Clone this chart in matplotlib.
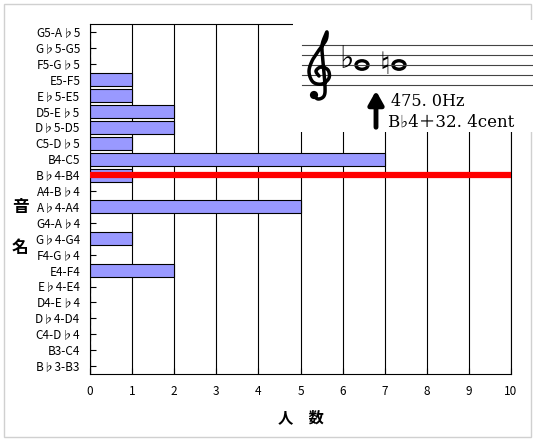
import matplotlib
matplotlib.use('Agg')
import numpy as np
import matplotlib.pyplot as plt
from matplotlib.patches import Ellipse, Rectangle, Circle

plt.rcParams['font.family'] = ['Noto Sans CJK JP', 'DejaVu Sans']

# interval names, top to bottom
names = ['G5-A♭5', 'G♭5-G5', 'F5-G♭5', 'E5-F5', 'E♭5-E5', 'D5-E♭5',
         'D♭5-D5', 'C5-D♭5', 'B4-C5', 'B♭4-B4', 'A4-B♭4', 'A♭4-A4',
         'G4-A♭4', 'G♭4-G4', 'F4-G♭4', 'E4-F4', 'E♭4-E4', 'D4-E♭4',
         'D♭4-D4', 'C4-D♭4', 'B3-C4', 'B♭3-B3']
counts = [0, 0, 0, 1, 1, 2, 2, 1, 7, 1, 0, 5, 0, 1, 0, 2, 0, 0, 0, 0, 0, 0]
marked = 'B♭4-B4'
freq_text = '475. 0Hz'
cent_text = 'B♭4＋32. 4cent'


def catmull(pts, n=12):
    # smooth curve through the given points
    pts = np.asarray(pts, float)
    p = np.vstack([pts[0], pts, pts[-1]])
    out = []
    for i in range(1, len(p) - 2):
        t = np.linspace(0, 1, n)[:, None]
        p0, p1, p2, p3 = p[i - 1], p[i], p[i + 1], p[i + 2]
        out.append(0.5 * ((2 * p1) + (-p0 + p2) * t + (2 * p0 - 5 * p1 + 4 * p2 - p3) * t ** 2
                          + (-p0 + 3 * p1 - 3 * p2 + p3) * t ** 3))
    return np.vstack(out)


W, H = 533, 441
fig = plt.figure(figsize=(W / 100, H / 100), dpi=100)
fig.patches.append(Rectangle((4 / W, 4 / H), 527 / W, 433 / H, transform=fig.transFigure,
                             fill=False, edgecolor='#d0d0d0', lw=1))

ax = fig.add_axes([90 / W, 1 - 374 / H, 421 / W, 350 / H])
ypos = list(range(len(names)))[::-1]
ax.barh(ypos, counts, height=0.82, color='#9999ff', edgecolor='black', lw=0.8, zorder=2)
ax.axhline(ypos[names.index(marked)], color='#ff0000', lw=4.5, zorder=3)
ax.set_xlim(0, 10)
ax.set_ylim(-0.5, len(names) - 0.5)
ax.set_xticks(range(11))
ax.set_yticks(ypos)
ax.set_yticklabels(names, fontsize=8.5)
ax.tick_params(axis='x', labelsize=8.5, direction='in', length=4, pad=8)
ax.tick_params(axis='y', direction='in', length=4, pad=7)
ax.xaxis.grid(True, color='black', lw=0.8, zorder=0)
for s in ax.spines.values():
    s.set_linewidth(0.8)

ax.set_xlabel('人　数', fontsize=11, fontweight='bold', labelpad=8)
fig.text(20 / W, 1 - 207 / H, '音', fontsize=12, fontweight='bold', ha='center', va='center')
fig.text(20 / W, 1 - 248 / H, '名', fontsize=12, fontweight='bold', ha='center', va='center')

# inset with the staff
ins = fig.add_axes([293 / W, 1 - 132 / H, 240 / W, 112 / H], zorder=5)
ins.set_xlim(293, 533)
ins.set_ylim(132, 20)
ins.axis('off')
ins.add_patch(Rectangle((293, 20), 240, 112, facecolor='white', edgecolor='none'))
for y in [45, 55, 65, 75, 85]:
    ins.plot([302, 533], [y, y], color='#444444', lw=0.8)

# treble clef (no installed font has the glyph)
clef = catmull([(313, 95), (318, 99), (324, 96), (325, 86), (323, 62), (322, 46),
                (325, 36), (327, 32), (326, 40), (319, 50), (312, 61), (309, 72),
                (313, 82), (322, 84), (329, 78), (328, 70), (321, 67), (316, 71), (319, 76)])
ins.plot(clef[:, 0], clef[:, 1], color='black', lw=2.5, solid_capstyle='round')
ins.add_patch(Circle((314, 95), 3.4, color='black'))

ins.text(346, 60, '♭', fontsize=22, ha='center', va='center', family='DejaVu Sans')
ins.add_patch(Ellipse((362, 65), 12, 8.5, facecolor='none', edgecolor='black', lw=2.4))
ins.text(385, 65, '♮', fontsize=22, ha='center', va='center', family='DejaVu Sans')
ins.add_patch(Ellipse((399, 65), 12, 8.5, facecolor='none', edgecolor='black', lw=2.4))
ins.annotate('', xy=(376, 88), xytext=(376, 130),
             arrowprops=dict(arrowstyle='-|>,head_width=0.45,head_length=0.8', color='black', lw=3.5))
ins.text(391, 101, freq_text, fontsize=11.5, ha='left', va='center',
         family=['DejaVu Serif', 'Noto Sans CJK JP'])
ins.text(388, 122, cent_text, fontsize=12, ha='left', va='center',
         family=['DejaVu Serif', 'Noto Sans CJK JP'])

fig.savefig('out.png', dpi=100)
